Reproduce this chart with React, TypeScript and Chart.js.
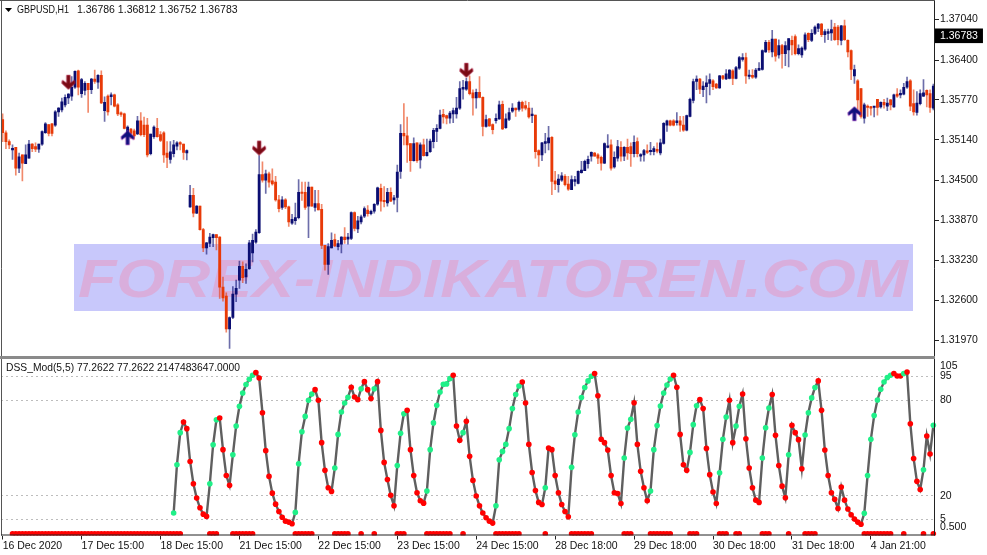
import React, { useEffect, useRef } from "react";
import { Chart, registerables } from "chart.js";

Chart.register(...registerables);

// GBPUSD H1 candles, prices in units of 0.0001
const opens = [13546,13525,13511,13498,13502,13469,13490,13476,13485,13507,
13503,13499,13507,13525,13538,13539,13537,13558,13561,13569,
13580,13583,13597,13623,13587,13592,13603,13593,13610,13605,
13616,13560,13583,13582,13585,13569,13556,13555,13524,13531,
13528,13523,13544,13537,13537,13492,13519,13532,13522,13525,
13493,13483,13492,13504,13509,13507,13493,13408,13426,13398,
13409,13372,13343,13350,13359,13364,13360,13281,13267,13215,
13233,13270,13292,13314,13297,13310,13335,13352,13367,13459,
13450,13460,13449,13447,13419,13407,13419,13408,13382,13386,
13391,13431,13431,13409,13439,13407,13413,13404,13347,13317,
13343,13356,13345,13349,13360,13357,13358,13399,13373,13384,
13393,13403,13397,13401,13412,13437,13418,13414,13431,13419,
13423,13464,13524,13520,13508,13481,13509,13482,13506,13489,
13495,13511,13527,13532,13554,13552,13548,13555,13555,13564,
13594,13594,13606,13588,13580,13589,13581,13535,13547,13538,
13544,13547,13570,13533,13546,13559,13564,13562,13573,13568,
13564,13552,13553,13497,13490,13508,13509,13518,13449,13443,
13450,13456,13444,13435,13448,13445,13462,13465,13476,13488,
13493,13490,13486,13477,13502,13506,13471,13485,13502,13488,
13502,13503,13492,13511,13488,13490,13495,13495,13495,13499,
13493,13508,13537,13544,13544,13541,13544,13537,13529,13551,
13576,13606,13610,13593,13598,13603,13607,13602,13596,13615,
13610,13611,13623,13611,13627,13641,13644,13614,13616,13613,
13624,13625,13653,13668,13653,13673,13648,13663,13650,13656,
13671,13677,13650,13648,13657,13682,13671,13682,13690,13697,
13680,13682,13683,13692,13692,13671,13694,13671,13655,13615,
13607,13595,13548,13566,13566,13565,13578,13566,13573,13567,
13577,13566,13586,13585,13586,13597,13607,13571,13557,13571,
13583,13592,13587,13564];
const closes = [13525,13511,13506,13500,13469,13487,13477,13490,13507,13500,
13499,13507,13527,13539,13524,13524,13558,13564,13574,13581,
13586,13597,13622,13597,13609,13603,13593,13610,13606,13616,
13572,13573,13558,13585,13567,13555,13554,13532,13534,13524,
13520,13544,13522,13522,13490,13523,13534,13519,13513,13490,
13486,13495,13506,13509,13507,13494,13497,13426,13398,13409,
13372,13343,13351,13360,13364,13359,13281,13264,13215,13233,
13270,13279,13314,13296,13309,13351,13355,13368,13459,13450,
13460,13447,13444,13419,13405,13419,13408,13384,13388,13391,
13431,13429,13407,13439,13409,13413,13403,13347,13317,13345,
13355,13346,13350,13360,13356,13360,13399,13374,13386,13392,
13405,13397,13401,13412,13438,13417,13416,13431,13417,13422,
13463,13524,13520,13506,13481,13508,13481,13506,13489,13494,
13512,13529,13532,13553,13550,13548,13556,13560,13564,13595,
13597,13606,13587,13580,13589,13581,13535,13546,13536,13530,
13548,13569,13531,13547,13557,13564,13561,13573,13564,13564,
13550,13553,13495,13490,13509,13511,13517,13448,13444,13452,
13457,13443,13436,13451,13451,13464,13466,13480,13483,13494,
13488,13485,13477,13508,13504,13469,13486,13503,13488,13502,
13493,13492,13510,13492,13490,13497,13494,13497,13500,13496,
13509,13540,13544,13537,13537,13544,13537,13529,13552,13578,
13606,13610,13594,13599,13604,13609,13598,13596,13615,13611,
13618,13624,13611,13628,13644,13644,13615,13616,13613,13624,
13627,13655,13668,13656,13673,13646,13663,13650,13663,13674,
13664,13650,13658,13659,13680,13672,13682,13692,13697,13680,
13685,13685,13688,13672,13672,13694,13672,13653,13625,13625,
13577,13551,13569,13565,13564,13566,13565,13573,13569,13572,
13569,13585,13583,13587,13597,13606,13567,13558,13572,13587,
13588,13585,13565,13599];
const highs = [13555,13528,13514,13506,13502,13493,13490,13506,13513,13508,
13509,13507,13528,13541,13538,13540,13560,13565,13580,13585,
13587,13614,13623,13624,13611,13606,13603,13611,13624,13617,
13623,13582,13585,13588,13586,13571,13558,13556,13536,13532,
13531,13551,13557,13550,13548,13523,13536,13548,13527,13527,
13511,13511,13513,13511,13511,13507,13498,13442,13437,13410,
13409,13374,13352,13366,13365,13364,13361,13297,13272,13234,
13282,13292,13322,13321,13318,13355,13365,13372,13489,13479,
13466,13463,13468,13456,13426,13424,13421,13409,13396,13414,
13451,13447,13447,13447,13439,13434,13434,13412,13347,13350,
13367,13365,13355,13361,13375,13366,13400,13400,13393,13395,
13408,13410,13403,13413,13439,13444,13440,13437,13438,13426,
13474,13538,13571,13550,13508,13517,13509,13509,13515,13515,
13515,13532,13538,13561,13562,13553,13559,13564,13581,13606,
13608,13611,13615,13593,13594,13614,13582,13553,13548,13539,
13555,13575,13575,13555,13564,13571,13564,13575,13575,13575,
13573,13564,13553,13498,13510,13524,13535,13519,13464,13459,
13462,13459,13456,13457,13456,13465,13480,13482,13488,13495,
13494,13492,13488,13509,13522,13514,13495,13513,13511,13503,
13515,13509,13520,13517,13492,13499,13506,13510,13503,13509,
13515,13541,13545,13545,13546,13557,13551,13551,13553,13580,
13610,13615,13611,13606,13615,13618,13609,13603,13616,13616,
13625,13625,13625,13630,13646,13650,13651,13624,13625,13627,
13636,13656,13671,13671,13687,13673,13672,13665,13669,13674,
13678,13680,13664,13661,13683,13683,13688,13694,13698,13698,
13688,13689,13703,13698,13695,13695,13703,13672,13656,13632,
13609,13595,13572,13569,13567,13567,13578,13574,13578,13580,
13578,13586,13595,13593,13603,13613,13609,13593,13590,13593,
13609,13593,13593,13602];
const lows = [13511,13500,13500,13483,13458,13462,13449,13476,13485,13495,
13495,13494,13505,13524,13520,13520,13535,13551,13558,13566,
13571,13576,13595,13585,13581,13585,13557,13587,13603,13595,
13571,13543,13553,13569,13566,13552,13551,13531,13519,13516,
13515,13522,13520,13519,13487,13490,13516,13518,13511,13478,
13470,13477,13487,13498,13498,13483,13482,13407,13392,13397,
13371,13337,13333,13345,13345,13340,13263,13259,13210,13184,
13231,13258,13279,13288,13287,13309,13321,13350,13366,13447,
13429,13439,13442,13417,13400,13404,13405,13377,13380,13380,
13389,13418,13404,13359,13409,13401,13403,13342,13308,13301,
13343,13345,13340,13335,13350,13349,13356,13370,13367,13381,
13391,13393,13395,13398,13410,13401,13408,13409,13416,13412,
13400,13453,13506,13478,13464,13480,13478,13469,13488,13488,
13494,13501,13511,13531,13540,13539,13540,13541,13548,13562,
13578,13592,13585,13553,13564,13580,13520,13534,13535,13523,
13540,13546,13530,13532,13544,13557,13551,13559,13559,13561,
13548,13541,13485,13472,13481,13493,13498,13427,13435,13431,
13448,13441,13434,13435,13441,13444,13461,13465,13469,13480,
13488,13476,13466,13476,13501,13466,13469,13480,13480,13481,
13483,13472,13487,13487,13480,13480,13492,13490,13490,13493,
13490,13507,13527,13536,13536,13537,13527,13527,13528,13550,
13572,13593,13587,13582,13572,13585,13593,13595,13595,13609,
13609,13610,13601,13610,13625,13638,13603,13610,13611,13611,
13623,13624,13652,13652,13645,13638,13643,13627,13631,13629,
13648,13648,13648,13644,13655,13669,13669,13680,13685,13677,
13668,13672,13671,13671,13664,13664,13671,13645,13609,13603,
13556,13548,13540,13551,13553,13550,13553,13564,13564,13560,
13561,13565,13581,13580,13585,13595,13560,13553,13553,13569,
13582,13566,13557,13561];

// DSS oscillator: first value belongs to bar 52
const dssStartBar = 52;
const dssValues = [9.1,39.4,59.6,66.3,62.1,41.5,27.5,18.5,12.4,8.4,7.0,27.5,52.0,67.7,68.8,48.9,32.7,26.5,45.7,63.8,
76.1,84.5,89.8,93.1,95.6,97.3,93.9,72.1,48.3,32.1,21.6,14.7,10.1,6.5,4.0,3.4,2.4,9.5,40.1,60.2,
69.8,79.9,83.9,86.6,79.9,53.3,35.9,25.0,22.7,37.4,58.5,72.6,78.2,81.8,88.1,82.0,80.3,87.2,91.6,86.6,
81.0,87.2,91.6,61.0,40.9,30.2,20.2,13.7,39.0,59.2,71.5,73.6,48.9,32.7,21.8,16.8,15.3,22.9,48.9,65.7,
76.8,85.1,90.0,90.2,93.5,95.6,63.8,54.8,59.6,66.7,44.7,29.6,19.8,13.7,9.1,6.1,4.0,2.8,13.7,42.6,
47.8,52.2,62.1,74.7,83.5,88.9,91.4,78.2,52.2,34.6,23.3,15.8,14.5,25.0,49.9,48.9,32.7,21.8,14.5,10.1,
6.8,37.8,58.3,72.6,81.6,87.9,92.1,95.0,96.7,82.8,55.4,53.3,48.7,32.7,21.8,21.4,15.1,43.6,62.5,68.0,
78.4,52.2,35.3,25.0,16.8,22.9,48.9,64.0,76.3,84.5,89.5,93.3,95.6,88.1,58.5,39.4,35.9,47.2,64.6,76.5,
80.3,74.7,49.7,33.2,22.3,15.1,34.4,55.4,69.4,79.9,53.3,63.8,76.1,83.9,55.8,37.4,25.0,17.2,15.8,43.6,
62.7,75.1,83.5,57.9,39.0,26.0,18.7,45.7,64.2,59.6,55.2,36.9,58.1,72.1,81.4,87.9,92.1,73.6,48.7,32.7,
21.8,17.7,12.0,25.4,17.2,11.6,8.0,5.3,3.4,2.1,8.9,32.7,55.4,70.3,80.1,86.8,91.4,94.2,95.6,96.7,
95.2,95.2,96.7,97.7,65.2,43.4,29.0,23.9,36.3,57.5,46.2,64.2];
const risingBars = [52,53,54,63,64,65,70,71,72,73,74,75,76,89,90,91,92,93,94,101,102,103,104,105,109,113,120,121,122,
129,130,131,132,133,134,135,136,140,150,151,152,153,154,155,156,157,165,173,174,175,176,177,178,179,189,190,191,
197,198,199,200,201,202,203,209,210,211,218,219,220,223,224,231,232,233,239,244,245,246,247,
262,263,264,265,266,267,268,269,270,274,280,283];
const emptyRowBars = [3,4,5,6,7,8,9,10,11,12,13,14,15,16,17,18,19,20,21,22,23,24,25,26,27,28,29,30,31,32,33,34,35,36,37,38,39,40,41,42,43,44,45,46,47,48,49,50,51];
const signalRowValue = -4;

// Arrow signals: [bar, price]
const downArrows = [[20, 1.3604], [78, 1.35], [141, 1.3623]];
const upArrows = [[38, 1.3518], [259, 1.3556]];

const xTickBars = [0, 24, 48, 72, 96, 120, 144, 168, 192, 216, 240, 264];
const xTickLabels = ["16 Dec 2020", "17 Dec 15:00", "18 Dec 15:00", "21 Dec 15:00", "22 Dec 15:00", "23 Dec 15:00", "24 Dec 15:00", "28 Dec 18:00", "29 Dec 18:00", "30 Dec 18:00", "31 Dec 18:00", "4 Jan 21:00"];
const priceTicks = [1.3704, 1.36783, 1.364, 1.3577, 1.3514, 1.345, 1.3387, 1.3323, 1.326, 1.3197];
const lastPrice = 1.36783;
const oscTickValues = [101.3, 95, 80, 20, 5, 0];
const oscTickLabels = ["105", "95", "80", "20", "5", "0.500"];
const oscLevels = [95, 80, 20, 5];

const NAVY = "#0b0e72";
const ORANGE = "#e83a08";
const FONT = "'Liberation Sans', Arial, sans-serif";

function makeArrow(color: string, fringe: string, up: boolean) {
  const c = document.createElement("canvas");
  c.width = 16;
  c.height = 18;
  const g = c.getContext("2d")!;
  g.translate(8, 9);
  if (up) g.scale(1, -1);
  const path = () => {
    g.beginPath();
    g.moveTo(-1.7, -7.5);
    g.lineTo(1.7, -7.5);
    g.lineTo(1.7, 0.5);
    g.lineTo(6, -2.5);
    g.lineTo(6.5, 0.5);
    g.lineTo(0, 6.5);
    g.lineTo(-6.5, 0.5);
    g.lineTo(-6, -2.5);
    g.lineTo(-1.7, 0.5);
    g.closePath();
  };
  path();
  g.strokeStyle = fringe;
  g.lineWidth = 0.8;
  g.stroke();
  path();
  g.fillStyle = color;
  g.fill();
  return c;
}

const mtPlugin = {
  id: "mtFrame",
  beforeDatasetsDraw(chart: any) {
    const ctx = chart.ctx;
    ctx.save();
    ctx.fillStyle = "#c8c8fb";
    ctx.fillRect(74, 244, 839, 67);
    const text = "FOREX-INDIKATOREN.COM";
    ctx.font = "italic bold 54px 'Liberation Sans', Arial, sans-serif";
    ctx.textBaseline = "alphabetic";
    ctx.textAlign = "left";
    const w = ctx.measureText(text).width;
    ctx.translate(78, 297);
    ctx.scale(830 / w, 1);
    ctx.fillStyle = "#d9aedc";
    ctx.fillText(text, 0, 0);
    ctx.restore();
  },
  afterDraw(chart: any) {
    const ctx = chart.ctx;
    const { left, right, top, bottom } = chart.chartArea;
    ctx.save();
    ctx.strokeStyle = "#555";
    ctx.lineWidth = 1;
    ctx.beginPath();
    ctx.moveTo(left + 0.5, top);
    ctx.lineTo(left + 0.5, bottom);
    ctx.moveTo(0, top - 0.5);
    ctx.lineTo(right, top - 0.5);
    ctx.stroke();
    ctx.strokeStyle = "#222";
    ctx.beginPath();
    ctx.moveTo(right - 0.5, top);
    ctx.lineTo(right - 0.5, bottom);
    ctx.moveTo(left, bottom - 0.5);
    ctx.lineTo(right, bottom - 0.5);
    ctx.stroke();
    ctx.fillStyle = "#8a8a8a";
    ctx.fillRect(0, 356, 935, 3);
    ctx.fillStyle = "#000";
    ctx.beginPath();
    ctx.moveTo(5, 8);
    ctx.lineTo(12, 8);
    ctx.lineTo(8.5, 12);
    ctx.closePath();
    ctx.fill();
    ctx.fillStyle = "#111";
    ctx.font = `10.5px ${FONT}`;
    ctx.textBaseline = "middle";
    ctx.textAlign = "left";
    ctx.fillText("GBPUSD,H1", 17, 10.5, 52);
    ctx.fillText("1.36786 1.36812 1.36752 1.36783", 77, 10.5);
    ctx.fillText("DSS_Mod(5,5) 77.2622 77.2622 2147483647.0000", 6, 368, 234);
    ctx.restore();
  },
};

export default function App() {
  const ref = useRef<HTMLCanvasElement>(null);
  useEffect(() => {
    document.body.style.margin = "0";
    const labels = opens.map((_, i) => String(i));
    const up = opens.map((o, i) => closes[i] >= o);
    const green = new Set(risingBars);
    const dss = labels.map((_, i) => (i < dssStartBar ? null : dssValues[i - dssStartBar]));
    const rowBars = new Set([...emptyRowBars, ...risingBars]);
    const row = labels.map((_, i) => (rowBars.has(i) ? signalRowValue : null));
    const toPrice = (p: number) => p / 10000;
    const arrowSeries = (list: number[][]) => list.map((a) => ({ x: String(a[0]), y: a[1] }));
    const chart = new Chart(ref.current!, {
      type: "bar",
      data: {
        labels,
        datasets: [
          {
            label: "wick",
            yAxisID: "y",
            data: labels.map((_, i) => [toPrice(lows[i]), toPrice(highs[i])]),
            backgroundColor: up.map((u) => (u ? "rgba(11,14,114,0.6)" : "rgba(232,58,8,0.6)")),
            barThickness: 1,
            grouped: false,
            order: 3,
          },
          {
            label: "body",
            yAxisID: "y",
            data: labels.map((_, i) => [toPrice(Math.min(opens[i], closes[i])), toPrice(Math.max(opens[i], closes[i]))]),
            backgroundColor: up.map((u) => (u ? NAVY : ORANGE)),
            barThickness: 2.2,
            minBarLength: 1.5,
            grouped: false,
            order: 2,
          },
          {
            type: "line",
            label: "DSS",
            yAxisID: "y2",
            data: dss,
            borderColor: "#5f5f5f",
            borderWidth: 2.4,
            tension: 0,
            pointRadius: 2.8,
            pointBorderWidth: 0,
            pointBackgroundColor: labels.map((_, i) => (green.has(i) ? "#1ff088" : "#ff0000")),
            order: 1,
          },
          {
            type: "line",
            label: "row",
            yAxisID: "y2",
            data: row,
            showLine: false,
            pointRadius: 2.8,
            pointBorderWidth: 0,
            pointBackgroundColor: "#ff0000",
            order: 1,
          },
          {
            type: "line",
            label: "sell",
            yAxisID: "y",
            data: arrowSeries(downArrows),
            showLine: false,
            pointStyle: makeArrow("#7a0a14", "#c02050", false),
            order: 0,
          },
          {
            type: "line",
            label: "buy",
            yAxisID: "y",
            data: arrowSeries(upArrows),
            showLine: false,
            pointStyle: makeArrow("#10107c", "#d040d0", true),
            order: 0,
          },
        ] as any,
      },
      options: {
        animation: false,
        responsive: false,
        devicePixelRatio: 1,
        layout: { autoPadding: false, padding: { left: 1, top: 1, right: 0, bottom: 0 } },
        plugins: { legend: { display: false }, tooltip: { enabled: false } },
        scales: {
          x: {
            type: "category",
            offset: true,
            afterBuildTicks: (s: any) => {
              s.ticks = xTickBars.map((v) => ({ value: v }));
            },
            afterFit: (s: any) => {
              s.height = 19.5;
              s.paddingLeft = 0;
              s.paddingRight = 0;
            },
            grid: { drawOnChartArea: false, offset: false, tickLength: 4, tickColor: "#222" },
            border: { display: false },
            ticks: {
              autoSkip: false,
              maxRotation: 0,
              minRotation: 0,
              align: "start",
              padding: 0,
              color: "#111",
              font: { family: FONT, size: 10.5 },
              callback: (v: any) => xTickLabels[xTickBars.indexOf(Number(v))],
            },
          },
          y: {
            type: "linear",
            position: "right",
            stack: "panes",
            stackWeight: 359,
            min: 1.31653,
            max: 1.37333,
            afterBuildTicks: (s: any) => {
              s.ticks = priceTicks.map((v) => ({ value: v }));
            },
            afterFit: (s: any) => {
              s.width = 52;
              s.paddingTop = 0;
              s.paddingBottom = 0;
            },
            grid: { drawOnChartArea: false, tickLength: 4, tickColor: "#222" },
            border: { display: false },
            ticks: {
              padding: 1,
              color: (c: any) => (c.tick && c.tick.value === lastPrice ? "#fff" : "#111"),
              font: { family: FONT, size: 10.5 },
              showLabelBackdrop: (c: any) => !!c.tick && c.tick.value === lastPrice,
              backdropColor: "#000",
              backdropPadding: { left: 5, right: 5, top: 1, bottom: 1 },
              callback: (v: any) => Number(v).toFixed(5),
            } as any,
          },
          y2: {
            type: "linear",
            position: "right",
            stack: "panes",
            stackWeight: 175,
            min: -5,
            max: 105,
            afterBuildTicks: (s: any) => {
              s.ticks = oscTickValues.map((v) => ({ value: v }));
            },
            afterFit: (s: any) => {
              s.width = 52;
              s.paddingTop = 0;
              s.paddingBottom = 0;
            },
            grid: {
              tickLength: 4,
              tickColor: "rgba(0,0,0,0)",
              color: (c: any) => (c.tick && oscLevels.includes(c.tick.value) ? "#bdbdbd" : "rgba(0,0,0,0)"),
            },
            border: { display: false, dash: [2, 3] },
            ticks: {
              padding: 1,
              color: "#111",
              font: { family: FONT, size: 10.5 },
              callback: (v: any) => oscTickLabels[oscTickValues.indexOf(Number(v))],
            },
          },
        },
      } as any,
      plugins: [mtPlugin],
    });
    return () => chart.destroy();
  }, []);
  return (
    <div style={{ position: "absolute", left: 0, top: 0, width: 987, height: 555 }}>
      <canvas ref={ref} width={987} height={555} style={{ display: "block" }} />
    </div>
  );
}
